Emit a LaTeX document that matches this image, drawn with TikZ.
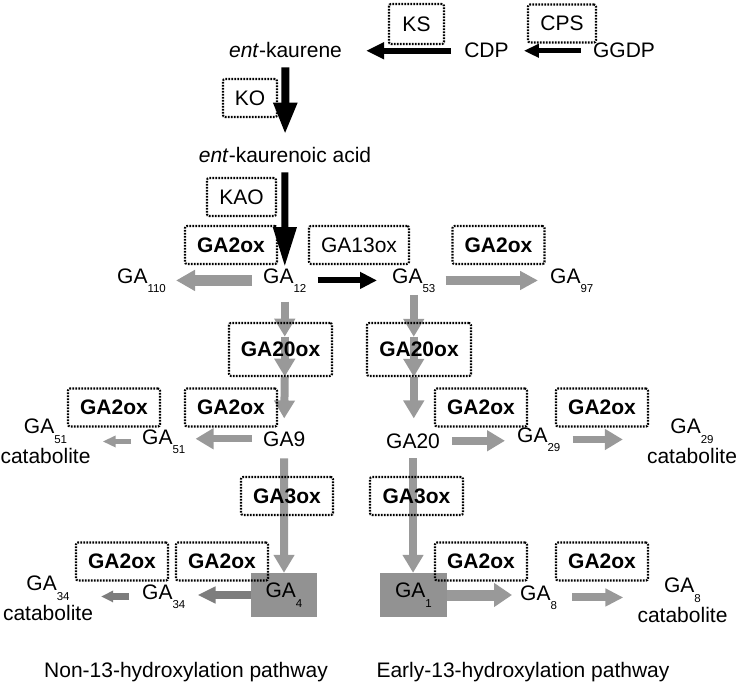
\documentclass[tikz,border=0pt]{standalone}
\usepackage{fontspec}
\setmainfont{Liberation Sans}
\usepackage{tikz}
\usetikzlibrary{arrows.meta}
\definecolor{arrowgray}{RGB}{153,153,153}
\definecolor{boxgray}{RGB}{146,146,146}
\definecolor{catgray}{RGB}{125,125,125}
\newcommand{\gasub}[1]{GA\raisebox{-9.5pt}{\fontsize{11.5}{13}\selectfont #1}}

\begin{document}
\begin{tikzpicture}[x=1pt, y=-1pt,
	every node/.style={inner sep=0pt, font=\fontsize{21}{25}\selectfont},
	enz/.style={draw, line width=2.1pt, dash pattern=on 1.7pt off 1.3pt, rounded corners=2pt, minimum width=92pt, minimum height=38pt},
	enzb/.style={enz, font=\fontsize{21}{25}\selectfont\bfseries},
	cat/.style={align=center, anchor=south},
	ga/.style={anchor=base west},
	vstep/.style={arrowgray, line width=8pt, -{Triangle[length=18pt,width=20pt]}}]
	\useasboundingbox (0,0) rectangle (742,685);
	% metabolites
			 \node[anchor=base] (entk)at(285.5,58) {\textit{ent}-kaurene};
			 \node[anchor=base] (cdp)at(486.5,58) {CDP};
			 \node[anchor=base] (ggdp)at(624,58) {GGDP};
			 \node[anchor=base] (entka)at(285,162) {\textit{ent}-kaurenoic acid};
			 \node[ga] (ga110)at(117,283) {\gasub{110}};
			 \node[ga] (ga12)at(263,283) {\gasub{12}};
			 \node[ga] (ga53)at(392,283) {\gasub{53}};
			 \node[ga] (ga97)at(550,283) {\gasub{97}};
			 \node[ga] (ga9)at(263,446) {GA9};
			 \node[ga] (ga51)at(142,444) {\gasub{51}};
			 \node[cat] (ga51c)at(45.5,464) {\gasub{51}\\[5pt]catabolite};
			 \node[ga] (ga20)at(386,448) {GA20};
			 \node[ga] (ga29)at(517,442) {\gasub{29}};
			 \node[cat] (ga29c)at(692,464) {\gasub{29}\\[5pt]catabolite};
			 \node[fill=boxgray, minimum width=66pt, minimum height=44pt] (ga4)at(284,595) {\gasub{4}};
			 \node[fill=boxgray, minimum width=67pt, minimum height=44pt] (ga1)at(413.5,595) {\gasub{1}};
			 \node[ga] (ga34)at(142,599) {\gasub{34}};
			 \node[cat] (ga34c)at(48,621) {\gasub{34}\\[5pt]catabolite};
			 \node[ga] (ga8)at(520,600) {\gasub{8}};
			 \node[cat] (ga8c)at(682.5,623) {\gasub{8}\\[5pt]catabolite};
			 \node[anchor=base] (non13)at(186,677) {Non-13-hydroxylation pathway};
			 \node[anchor=base] (early13)at(523,677) {Early-13-hydroxylation pathway};
	% black steps
			 \draw[line width=5pt, -{Triangle[length=15pt,width=13pt]}, shorten <=12pt, shorten >=15pt] (ggdp.west) -- (ggdp.west -| cdp.east);
			 \draw[line width=6pt, -{Triangle[length=18pt,width=16pt]}, shorten <=13pt, shorten >=24pt] (cdp.west) -- (cdp.west -| entk.east);
			 \draw[line width=8pt, -{Triangle[length=32pt,width=22pt]}, shorten <=9pt, shorten >=12pt] (entk.south) -- (entka.north);
			 \draw[line width=7pt, -{Triangle[length=40pt,width=22pt]}, shorten <=10pt, shorten >=1pt] (entka.south) -- (ga12.north);
			 \draw[line width=6pt, -{Triangle[length=17pt,width=16pt]}, shorten <=11pt, shorten >=15pt] (ga12.east) -- (ga12.east -| ga53.west);
	% gray steps
			 \draw[arrowgray, line width=11pt, -{Triangle[length=19pt,width=20pt]}, shorten <=11pt, shorten >=10pt] (ga12.west) -- (ga12.west -| ga110.east);
			 \draw[arrowgray, line width=9pt, -{Triangle[length=18pt,width=18pt]}, shorten <=10pt, shorten >=12pt] (ga53.east) -- (ga53.east -| ga97.west);
			 \draw[vstep] ([yshift=-9pt]ga12.south) -- ([yshift=-44pt]ga12.south);
			 \draw[vstep] ([yshift=-44pt]ga12.south) -- ([yshift=-84pt]ga12.south);
			 \draw[vstep] ([yshift=-84pt]ga12.south) -- ([yshift=12.7pt]ga9.north);
			 \draw[vstep] ([yshift=-2pt]ga53.south) -- ([yshift=-44pt]ga53.south);
			 \draw[vstep] ([yshift=-44pt]ga53.south) -- ([yshift=-84pt]ga53.south);
			 \draw[vstep] ([yshift=-84pt]ga53.south) -- ([yshift=14.7pt]ga53.south |- ga20.north);
			 \draw[arrowgray, line width=7pt, -{Triangle[length=18pt,width=20pt]}, shorten <=11pt, shorten >=10pt] (ga9.west) -- (ga9.west -| ga51.east);
			 \draw[arrowgray, line width=5pt, -{Triangle[length=13pt,width=11pt]}, shorten <=11pt, shorten >=12pt] (ga51.west) -- (ga51.west -| ga51c.east);
			 \draw[arrowgray, line width=8pt, -{Triangle[length=18pt,width=20pt]}, shorten <=12pt, shorten >=12pt] (ga20.east) -- (ga20.east -| ga29.west);
			 \draw[arrowgray, line width=7pt, -{Triangle[length=18pt,width=20pt]}, shorten <=12pt, shorten >=24pt] (ga29.east) -- (ga29.east -| ga29c.west);
			 \draw[vstep, shorten <=12pt] (ga9.south) -- (ga4.north);
			 \draw[vstep, shorten <=10pt] (ga20.south) -- (ga20.south |- ga1.north);
			 \draw[catgray, line width=8pt, -{Triangle[length=18pt,width=16pt]}, shorten >=12pt] (ga4.west) -- (ga4.west -| ga34.east);
			 \draw[catgray, line width=7pt, -{Triangle[length=12pt,width=11pt]}, shorten <=13pt, shorten >=8pt] (ga34.west) -- (ga34.west -| ga34c.east);
			 \draw[arrowgray, line width=11pt, -{Triangle[length=18pt,width=23pt]}, shorten >=8pt] (ga1.east) -- (ga1.east -| ga8.west);
			 \draw[arrowgray, line width=8pt, -{Triangle[length=18pt,width=17pt]}, shorten <=15pt, shorten >=14pt] (ga8.east) -- (ga8.east -| ga8c.west);
	% enzymes
			 \node[enz, minimum width=55pt, minimum height=40pt] (ks)at(416.5,24) {KS};
			 \node[enz, minimum width=68pt, minimum height=38pt] (cps)at(562,23.5) {CPS};
			 \node[enz, minimum width=54pt] (ko)at(250,98) {KO};
			 \node[enz, minimum width=69pt] (kao)at(241.5,197) {KAO};
			 \node[enzb] (ga2ox12)at(231,245) {GA2ox};
			 \node[enz, minimum width=100pt] (ga13ox)at(359,245) {GA13ox};
			 \node[enzb] (ga2ox53)at(498.5,245) {GA2ox};
			 \node[enzb, minimum width=103pt, minimum height=53pt] (ga20ox12)at(280.5,349.5) {GA20ox};
			 \node[enzb, minimum width=104pt, minimum height=53pt] (ga20ox53)at(419,349.5) {GA20ox};
			 \node[enzb] (ga2ox51)at(114,407.5) {GA2ox};
			 \node[enzb] (ga2ox9)at(231,407.5) {GA2ox};
			 \node[enzb] (ga2ox20)at(481,407.5) {GA2ox};
			 \node[enzb] (ga2ox29)at(602,407.5) {GA2ox};
			 \node[enzb] (ga3ox9)at(287,496) {GA3ox};
			 \node[enzb, minimum width=93pt] (ga3ox20)at(416.5,496) {GA3ox};
			 \node[enzb] (ga2ox34)at(122,561.5) {GA2ox};
			 \node[enzb] (ga2ox4)at(222,561.5) {GA2ox};
			 \node[enzb] (ga2ox1)at(481,561.5) {GA2ox};
			 \node[enzb] (ga2ox8)at(602,561.5) {GA2ox};
\end{tikzpicture}
\end{document}
